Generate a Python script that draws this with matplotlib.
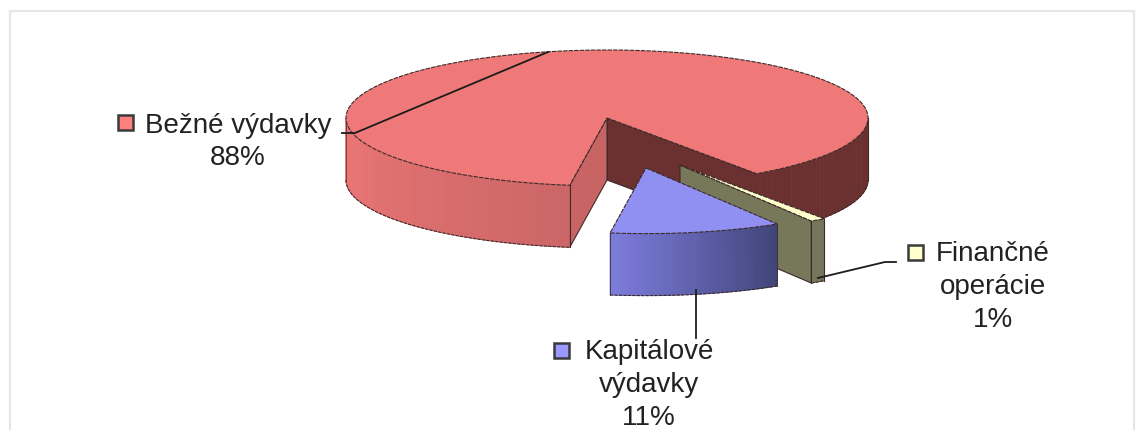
# -*- coding: utf-8 -*-
"""Exploded 3D-look pie of budget spending, drawn on a pixel-sized axes."""

import matplotlib

matplotlib.use("Agg")
import matplotlib.pyplot as plt
import numpy as np
from matplotlib.collections import PolyCollection
from matplotlib.colors import to_rgb
from matplotlib.patches import Polygon, Rectangle

NAMES = ["Bežné\u00a0výdavky", "Finančné\noperácie", "Kapitálové\nvýdavky"]
VALUES = [88, 1, 11]

W, H = 1146, 430
CX, CY = 607, 118
RX, RY = 261, 68
DEPTH = 62
START = -55.0  # where the big slice begins, going counter-clockwise
EDGE = "#3d2a2a"


def rim(a0, a1, rx, ry, cx, cy, n=80):
    t = np.radians(np.linspace(a0, a1, n))
    return np.column_stack([cx + rx * np.cos(t), cy - ry * np.sin(t)])


def gradient_wall(ax, pts, c0, c1, edge=EDGE):
    # side of a slice, split into thin strips so the shade can change along it
    c0, c1 = np.array(to_rgb(c0)), np.array(to_rgb(c1))
    strips, cols = [], []
    for i in range(len(pts) - 1):
        a, b = pts[i], pts[i + 1]
        strips.append([a, b, b + [0, DEPTH], a + [0, DEPTH]])
        cols.append(c0 + (c1 - c0) * i / max(len(pts) - 2, 1))
    ax.add_collection(PolyCollection(strips, facecolors=cols, edgecolors=cols, linewidths=0.6))
    ax.plot(pts[:, 0], pts[:, 1] + DEPTH, color=edge, lw=0.8, ls=(0, (3, 1)))


def flat_wall(ax, a, b, color):
    a, b = np.array(a, float), np.array(b, float)
    ax.add_patch(Polygon([a, b, b + [0, DEPTH], a + [0, DEPTH]], fc=color, ec=EDGE, lw=0.8))


def top_face(ax, apex, pts, color):
    ax.add_patch(Polygon(np.vstack([[apex], pts]), fc=color, ec=EDGE, lw=0.8, ls=(0, (4, 1))))


def label(ax, x, y, text, mx, my, color):
    ax.add_patch(Rectangle((mx, my), 15, 15, fc=color, ec="#3a3a3a", lw=1.8))
    ax.text(x, y, text, ha="center", va="center", fontsize=20, color="#222222",
            family="Liberation Sans", linespacing=1.33)


def main():
    fig = plt.figure(figsize=(W / 100, H / 100), dpi=100)
    ax = fig.add_axes([0, 0, 1, 1])
    ax.set_xlim(0, W)
    ax.set_ylim(H, 0)
    ax.axis("off")

    # frame of the screenshot, open at the bottom
    ax.plot([9.5, 9.5, 1134, 1134], [H, 10.5, 10.5, H], color="#e6e6e6", lw=1.6)

    sweep = [v / sum(VALUES) * 360 for v in VALUES]
    main_end = START + sweep[0]
    fin_end = START - sweep[1]
    kap_end = fin_end - sweep[2]

    # big slice
    main_rim = rim(START, main_end, RX, RY, CX, CY, 300)
    right = rim(START, 0, RX, RY, CX, CY, 40)
    left = rim(180, main_end, RX, RY, CX, CY, 80)
    flat_wall(ax, (CX, CY), right[0], "#6b3131")
    flat_wall(ax, (CX, CY), left[-1], "#c96464")
    gradient_wall(ax, right, "#6b3131", "#6b3131")
    gradient_wall(ax, left, "#ee7777", "#cc6666")
    ax.plot([left[0, 0]] * 2, [left[0, 1], left[0, 1] + DEPTH], color=EDGE, lw=0.5)
    ax.plot([right[-1, 0]] * 2, [right[-1, 1], right[-1, 1] + DEPTH], color=EDGE, lw=0.8)
    ax.plot([left[-1, 0]] * 2, [left[-1, 1], left[-1, 1] + DEPTH], color=EDGE, lw=0.8)
    top_face(ax, (CX, CY), main_rim, "#ef7878")

    # small slice pulled out of the pie
    fx, fy = CX + 73, CY + 47
    fin = rim(START, fin_end, RX * 0.965, RY * 0.965, fx, fy, 12)
    flat_wall(ax, (fx, fy), fin[-1], "#77775a")
    gradient_wall(ax, fin[::-1], "#75755a", "#75755a")
    ax.plot([fin[0, 0]] * 2, [fin[0, 1], fin[0, 1] + DEPTH], color=EDGE, lw=0.8)
    ax.plot([fin[-1, 0]] * 2, [fin[-1, 1], fin[-1, 1] + DEPTH], color=EDGE, lw=0.8)
    top_face(ax, (fx, fy), fin, "#ffffcc")

    # investment slice
    kx, ky = CX + 39, CY + 50
    kap = rim(fin_end, kap_end, RX * 0.965, RY * 0.965, kx, ky, 60)
    gradient_wall(ax, kap, "#3f4478", "#7c7cdc")
    ax.plot([kap[0, 0]] * 2, [kap[0, 1], kap[0, 1] + DEPTH], color=EDGE, lw=0.6)
    ax.plot([kap[-1, 0]] * 2, [kap[-1, 1], kap[-1, 1] + DEPTH], color=EDGE, lw=0.6)
    top_face(ax, (kx, ky), kap, "#9090f2")

    # leader lines
    ax.plot([342, 355, 548], [133, 133, 52], color="#1c1c1c", lw=1.3)
    ax.plot([696, 696], [290, 338], color="#1c1c1c", lw=1.3)
    ax.plot([818, 885, 896], [278, 262, 262], color="#1c1c1c", lw=1.3)

    # labels
    label(ax, 238, 142, f"{NAMES[0]}\n{VALUES[0]}%", 118, 114.5, "#ff7f7f")
    label(ax, 993, 287, f"{NAMES[1]}\n{VALUES[1]}%", 907.5, 245, "#ffffcc")
    label(ax, 649, 385, f"{NAMES[2]}\n{VALUES[2]}%", 553.5, 343, "#9999ff")

    # paint strictly back to front, in the order things were added
    for i, art in enumerate(ax.get_children()):
        art.set_zorder(i)

    fig.savefig("out.png", dpi=100, facecolor="white")
    plt.close(fig)


if __name__ == "__main__":
    main()
